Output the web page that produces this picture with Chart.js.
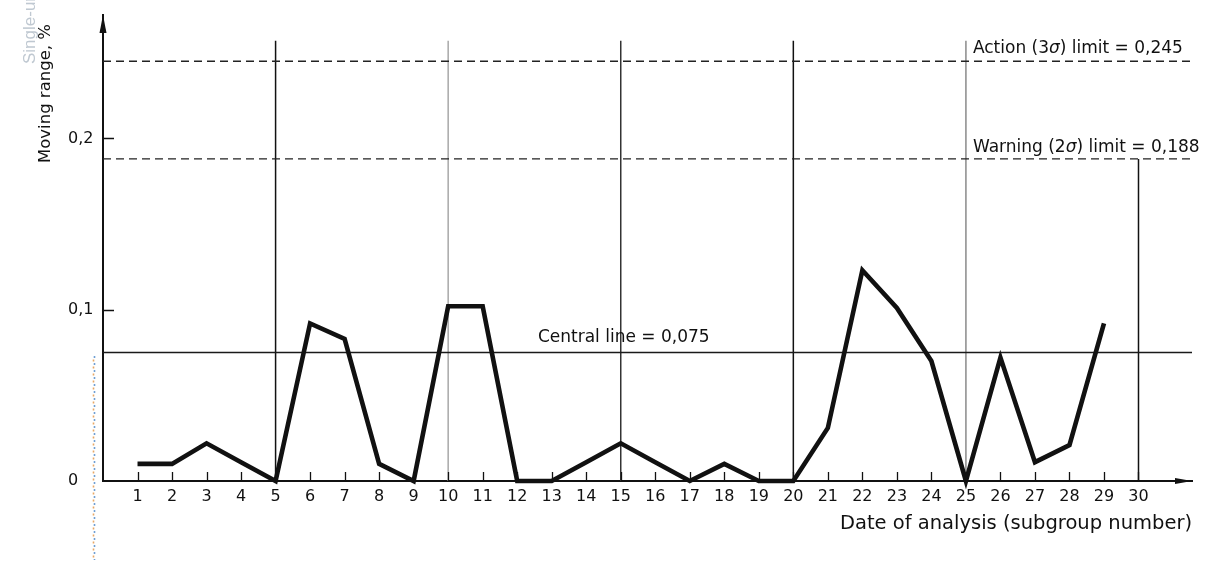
<!DOCTYPE html>
<html>
<head>
<meta charset="utf-8">
<script src="https://cdn.jsdelivr.net/npm/chart.js@4.4.1/dist/chart.umd.min.js"></script>
<style>
  html, body { margin: 0; padding: 0; background: #ffffff; }
  #wrap { width: 1216px; height: 562px; position: relative; }
</style>
</head>
<body>
<div id="wrap"><canvas id="chart" width="1216" height="562"></canvas></div>
<script>
// Subgroup numbers and the moving range (%) between consecutive analyses
const subgroupNumbers = [1, 2, 3, 4, 5, 6, 7, 8, 9, 10, 11, 12, 13, 14, 15,
                         16, 17, 18, 19, 20, 21, 22, 23, 24, 25, 26, 27, 28, 29];
const movingRange = [0.010, 0.010, 0.022, 0.011, 0.000, 0.092, 0.083, 0.010, 0.000, 0.102,
                     0.102, 0.000, 0.000, 0.011, 0.022, 0.011, 0.000, 0.010, 0.000, 0.000,
                     0.031, 0.123, 0.101, 0.070, 0.000, 0.072, 0.011, 0.021, 0.092];

// Control limits
const centralLine = 0.075;
const warningLimit = 0.188;
const actionLimit = 0.245;

// Axis ticks and their labels
const xTickValues = [1, 2, 3, 4, 5, 6, 7, 8, 9, 10, 11, 12, 13, 14, 15,
                     16, 17, 18, 19, 20, 21, 22, 23, 24, 25, 26, 27, 28, 29, 30];
const xTickLabels = ['1', '2', '3', '4', '5', '6', '7', '8', '9', '10', '11', '12', '13', '14', '15',
                     '16', '17', '18', '19', '20', '21', '22', '23', '24', '25', '26', '27', '28', '29', '30'];
const yTickValues = [0, 0.1, 0.2];
const yTickLabels = ['0', '0,1', '0,2'];

// Vertical dividers every five subgroups, and the closing one at 30
const dividerSubgroups = [5, 10, 15, 20, 25];
const dividerColors = ['#111111', '#a8a8a8', '#333333', '#111111', '#8a8a8a'];
const dividerTop = 0.257;
const closingSubgroup = 30;

// Axis extents
const xMin = 0, xMax = 31.55;
const yMin = 0, yMax = 0.272;

const xTitle = 'Date of analysis (subgroup number)';
const yTitle = 'Moving range, %';
const fmt = v => v.toFixed(3).replace('.', ',');

const FONT = "'DejaVu Sans', 'Liberation Sans', sans-serif";
const INK = '#111111';

const seg = (x, y) => ({ x, y });

const datasets = [
  {
    label: 'Moving range',
    data: subgroupNumbers.map((n, i) => seg(n, movingRange[i])),
    borderColor: INK,
    borderWidth: 4.6,
    borderJoinStyle: 'miter',
    borderCapStyle: 'butt',
    pointRadius: 0,
    tension: 0,
    clip: false
  },
  {
    label: 'Central line',
    data: [seg(xMin, centralLine), seg(xMax, centralLine)],
    borderColor: '#1a1a1a',
    borderWidth: 1.4,
    pointRadius: 0
  },
  {
    label: 'Warning limit',
    data: [seg(xMin, warningLimit), seg(xMax, warningLimit)],
    borderColor: '#222222',
    borderWidth: 1.3,
    borderDash: [8, 5],
    pointRadius: 0
  },
  {
    label: 'Action limit',
    data: [seg(xMin, actionLimit), seg(xMax, actionLimit)],
    borderColor: '#222222',
    borderWidth: 1.3,
    borderDash: [8, 5],
    pointRadius: 0
  },
  ...dividerSubgroups.map((s, i) => ({
    label: 'Divider ' + s,
    data: [seg(s, 0), seg(s, dividerTop)],
    borderColor: dividerColors[i],
    borderWidth: 1.5,
    pointRadius: 0
  })),
  {
    label: 'Divider ' + closingSubgroup,
    data: [seg(closingSubgroup, 0), seg(closingSubgroup, warningLimit)],
    borderColor: '#111111',
    borderWidth: 1.5,
    pointRadius: 0
  }
];

function drawRich(ctx, x, y, parts, size) {
  for (const p of parts) {
    ctx.font = (p.italic ? 'italic ' : '') + size + 'px ' + FONT;
    ctx.fillText(p.t, x, y);
    x += ctx.measureText(p.t).width;
  }
}

// Inner tick marks, arrowheads and the limit captions
const decorations = {
  id: 'decorations',
  afterDatasetsDraw(chart) {
    const { ctx, chartArea: a, scales: { x, y } } = chart;
    ctx.save();
    ctx.strokeStyle = INK;
    ctx.fillStyle = INK;

    // ticks pointing into the plot
    ctx.lineWidth = 1.3;
    ctx.beginPath();
    xTickValues.forEach(v => {
      const px = Math.round(x.getPixelForValue(v)) + 0.5;
      ctx.moveTo(px, a.bottom);
      ctx.lineTo(px, a.bottom - 9);
    });
    yTickValues.slice(1).forEach(v => {
      const py = Math.round(y.getPixelForValue(v)) + 0.5;
      ctx.moveTo(a.left, py);
      ctx.lineTo(a.left + 11, py);
    });
    ctx.stroke();

    // arrowheads
    ctx.beginPath();
    ctx.moveTo(a.left, a.top);
    ctx.lineTo(a.left - 3.5, a.top + 18);
    ctx.lineTo(a.left + 3.5, a.top + 18);
    ctx.closePath();
    ctx.fill();
    ctx.beginPath();
    ctx.moveTo(a.right, a.bottom);
    ctx.lineTo(a.right - 17, a.bottom - 3);
    ctx.lineTo(a.right - 17, a.bottom + 3);
    ctx.closePath();
    ctx.fill();

    // captions
    ctx.textBaseline = 'alphabetic';
    ctx.textAlign = 'left';
    const capX = x.getPixelForValue(25) + 7;
    drawRich(ctx, capX, y.getPixelForValue(actionLimit) - 8, [
      { t: 'Action (3' }, { t: 'σ', italic: true }, { t: ') limit = ' + fmt(actionLimit) }
    ], 17);
    drawRich(ctx, capX, y.getPixelForValue(warningLimit) - 7, [
      { t: 'Warning (2' }, { t: 'σ', italic: true }, { t: ') limit = ' + fmt(warningLimit) }
    ], 17);
    drawRich(ctx, x.getPixelForValue(12.6), y.getPixelForValue(centralLine) - 11, [
      { t: 'Central line = ' + fmt(centralLine) }
    ], 17);

    // vertical axis title
    ctx.save();
    ctx.translate(46, 163);
    ctx.rotate(-Math.PI / 2);
    ctx.textBaseline = 'middle';
    ctx.font = '16.5px ' + FONT;
    ctx.fillText(yTitle, 0, 0);
    ctx.restore();

    // faint overprinted heading at the top-left corner
    ctx.save();
    ctx.translate(30, 64);
    ctx.rotate(-Math.PI / 2);
    ctx.textBaseline = 'middle';
    ctx.font = "17px 'Liberation Sans', sans-serif";
    ctx.fillStyle = '#bfc8d1';
    ctx.fillText('Single-unit', 0, 0);
    ctx.restore();

    // faint dotted margin line
    ctx.lineWidth = 1.6;
    ctx.setLineDash([2, 5]);
    ctx.strokeStyle = '#6f9fd4';
    ctx.beginPath(); ctx.moveTo(94.5, 356); ctx.lineTo(94.5, 560); ctx.stroke();
    ctx.lineDashOffset = 3.5;
    ctx.strokeStyle = '#e8a866';
    ctx.beginPath(); ctx.moveTo(93.5, 356); ctx.lineTo(93.5, 560); ctx.stroke();
    ctx.restore();
  }
};

new Chart(document.getElementById('chart'), {
  type: 'line',
  data: { datasets },
  plugins: [decorations],
  options: {
    responsive: false,
    animation: false,
    devicePixelRatio: 1,
    layout: { padding: { left: 68, top: 15, right: 24, bottom: 0 } },
    plugins: { legend: { display: false }, tooltip: { enabled: false } },
    scales: {
      x: {
        type: 'linear',
        min: xMin,
        max: xMax,
        grid: { display: false, drawTicks: false },
        border: { display: true, color: INK, width: 2 },
        afterBuildTicks: s => { s.ticks = xTickValues.map(v => ({ value: v })); },
        afterFit: s => { s.height = 81; },
        ticks: {
          color: INK,
          font: { family: FONT, size: 16 },
          padding: 6,
          maxRotation: 0,
          autoSkip: false,
          callback: (v, i) => xTickLabels[i]
        },
        title: {
          display: true,
          text: xTitle,
          align: 'end',
          color: INK,
          font: { family: FONT, size: 19.5 },
          padding: { top: 0, bottom: 26 }
        }
      },
      y: {
        type: 'linear',
        min: yMin,
        max: yMax,
        grid: { display: false, drawTicks: false },
        border: { display: true, color: INK, width: 2 },
        afterBuildTicks: s => { s.ticks = yTickValues.map(v => ({ value: v })); },
        afterFit: s => { s.width = 35; },
        ticks: {
          color: INK,
          font: { family: FONT, size: 16 },
          crossAlign: 'far',
          callback: (v, i) => yTickLabels[i]
        }
      }
    }
  }
});
</script>
</body>
</html>
